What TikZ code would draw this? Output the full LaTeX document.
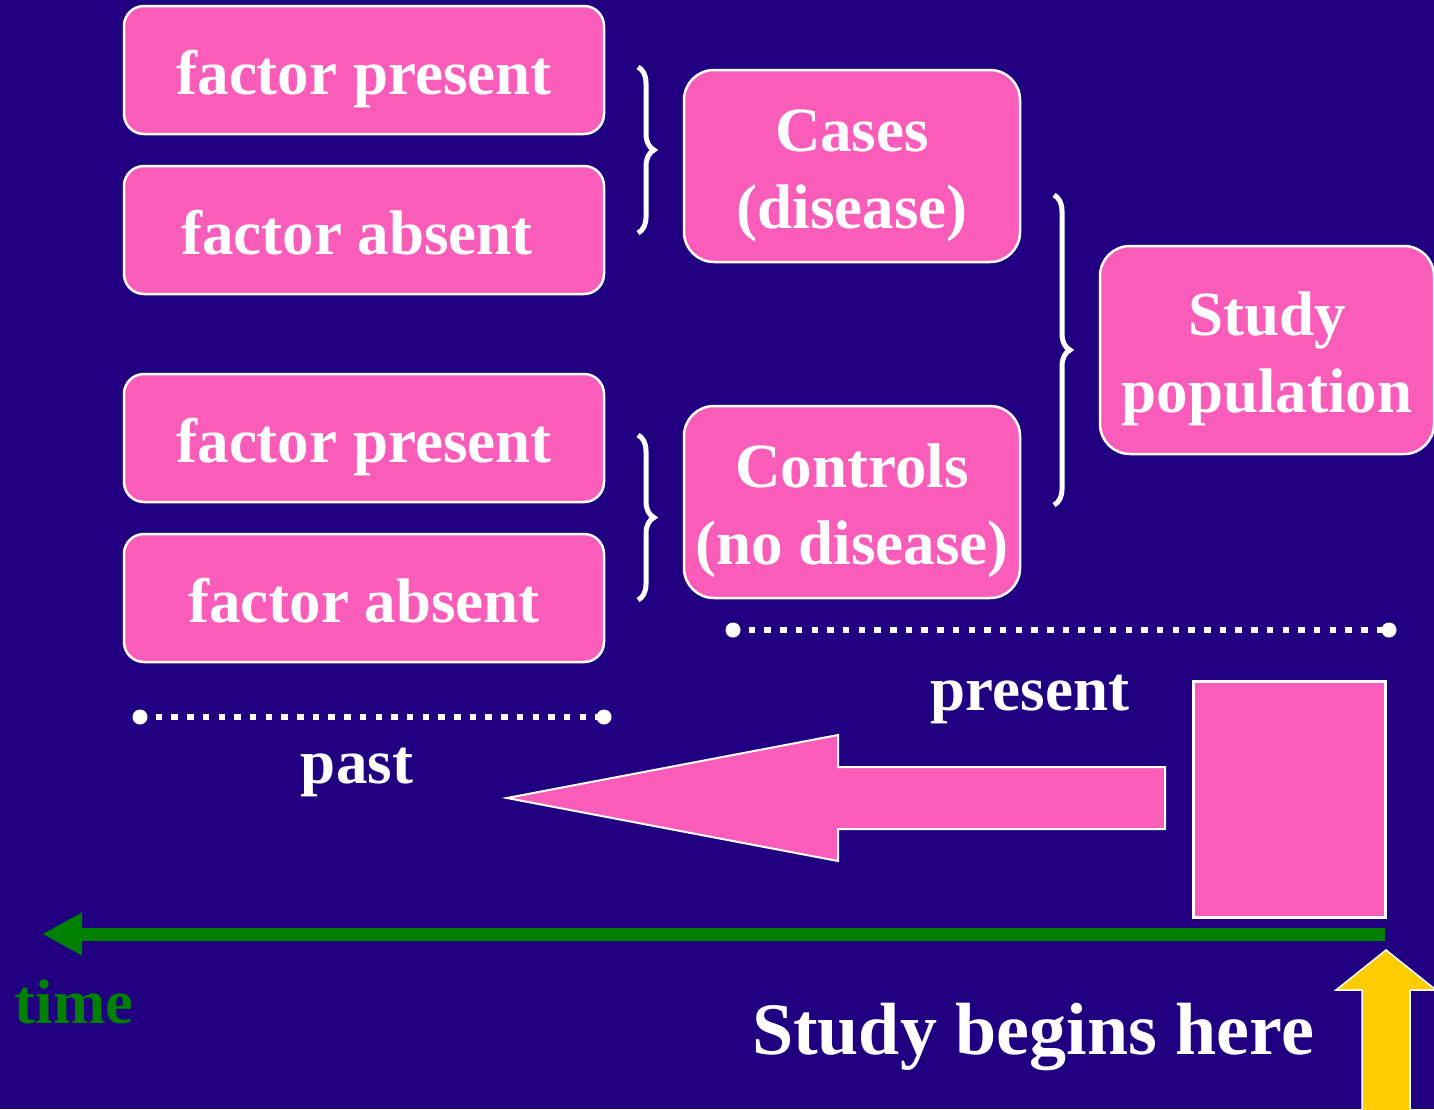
\documentclass[tikz,border=0pt]{standalone}
\usepackage{fontspec}
\setmainfont{Liberation Serif}
\usetikzlibrary{decorations.pathreplacing,arrows.meta}
\definecolor{bgblue}{RGB}{32,0,128}
\definecolor{boxpink}{RGB}{250,92,185}
\definecolor{timegreen}{RGB}{0,128,0}
\definecolor{startyellow}{RGB}{255,204,0}
\begin{document}
\begin{tikzpicture}[x=1pt,y=-1pt,
  bigtext/.style={font=\fontsize{63pt}{77pt}\selectfont\bfseries},
  factorbox/.style={draw=white, line width=2.5pt, fill=boxpink, rounded corners=20pt,
    text=white, bigtext, inner sep=0pt, minimum width=480pt, minimum height=128pt,
    text height=48pt, text depth=0pt},
  groupbox/.style={draw=white, line width=2.5pt, fill=boxpink, rounded corners=30pt,
    text=white, bigtext, inner sep=0pt, align=center, minimum width=336pt,
    text height=124pt, text depth=0pt},
  bracket/.style={draw=white, line width=5pt, decorate,
    decoration={brace, amplitude=16pt}},
  dotline/.style={draw=white, line width=6.5pt, dash pattern=on 6.5pt off 9.2pt},
  enddot/.style={fill=white},
  label/.style={text=white, bigtext, anchor=base, inner sep=0pt}]

% background
\fill[bgblue] (0,0) rectangle (1434,1109);
\useasboundingbox (0,0) rectangle (1434,1109);

% exposure boxes
\node[factorbox] (fp1) at (364,70)  {factor present};
\node[factorbox] (fa1) at (364,230) {\kern-14pt factor absent};
\node[factorbox] (fp2) at (364,438) {factor present};
\node[factorbox] (fa2) at (364,598) {factor absent};

% outcome groups
\node[groupbox, minimum height=192pt] (cases) at (852,166) {Cases\\(disease)};
\node[groupbox, minimum height=192pt] (ctrl)  at (852,502) {Controls\\(no disease)};
\node[groupbox, minimum width=334pt, minimum height=208pt] (pop) at (1267,350) {Study\\population};

% grouping braces
\draw[bracket] (638,67)   -- (638,233);
\draw[bracket] (638,435)  -- (638,600);
\draw[bracket] (1054,195) -- (1054,505);

% present / past markers
\coordinate (pr1) at (733,630);
\coordinate (pr2) at (1389,630);
\draw[dotline] (pr1) -- (pr2);
\fill[enddot] (pr1) circle (7.5pt);
\fill[enddot] (pr2) circle (7.5pt);
\node[label] (present) at (1030,710) {present};

\coordinate (pa1) at (140,717);
\coordinate (pa2) at (604,717);
\draw[dotline] (pa1) -- (pa2);
\fill[enddot] (pa1) circle (7.5pt);
\fill[enddot] (pa2) circle (7.5pt);
\node[label] (past) at (357,783) {past};

% look-back arrow
\draw[white, line width=2pt, fill=boxpink, line join=miter]
  (507,798) -- (838,735) -- (838,767) -- (1165,767) -- (1165,829)
  -- (838,829) -- (838,861) -- cycle;

% study block
\node[draw=white, line width=3pt, fill=boxpink, minimum width=192pt,
  minimum height=236pt, inner sep=0pt] (block) at (1289,799) {};

% time axis
\coordinate (t0) at (1385,934);
\coordinate (t1) at (42,934);
\draw[timegreen, line width=13pt, -{Triangle[length=40pt,width=40pt]}] (t0) -- (t1);
\node[anchor=base, inner sep=0pt, text=timegreen, bigtext] (time) at (74,1023) {time};

% start arrow
\draw[white, line width=1.5pt, fill=startyellow, line join=miter]
  (1362,1115) -- (1362,990) -- (1336,990) -- (1386,950) -- (1436,990)
  -- (1410,990) -- (1410,1115) -- cycle;
\node[anchor=base, inner sep=0pt, text=white,
  font=\fontsize{74pt}{88pt}\selectfont\bfseries] (begins) at (1033,1054) {Study begins here};
\end{tikzpicture}
\end{document}
